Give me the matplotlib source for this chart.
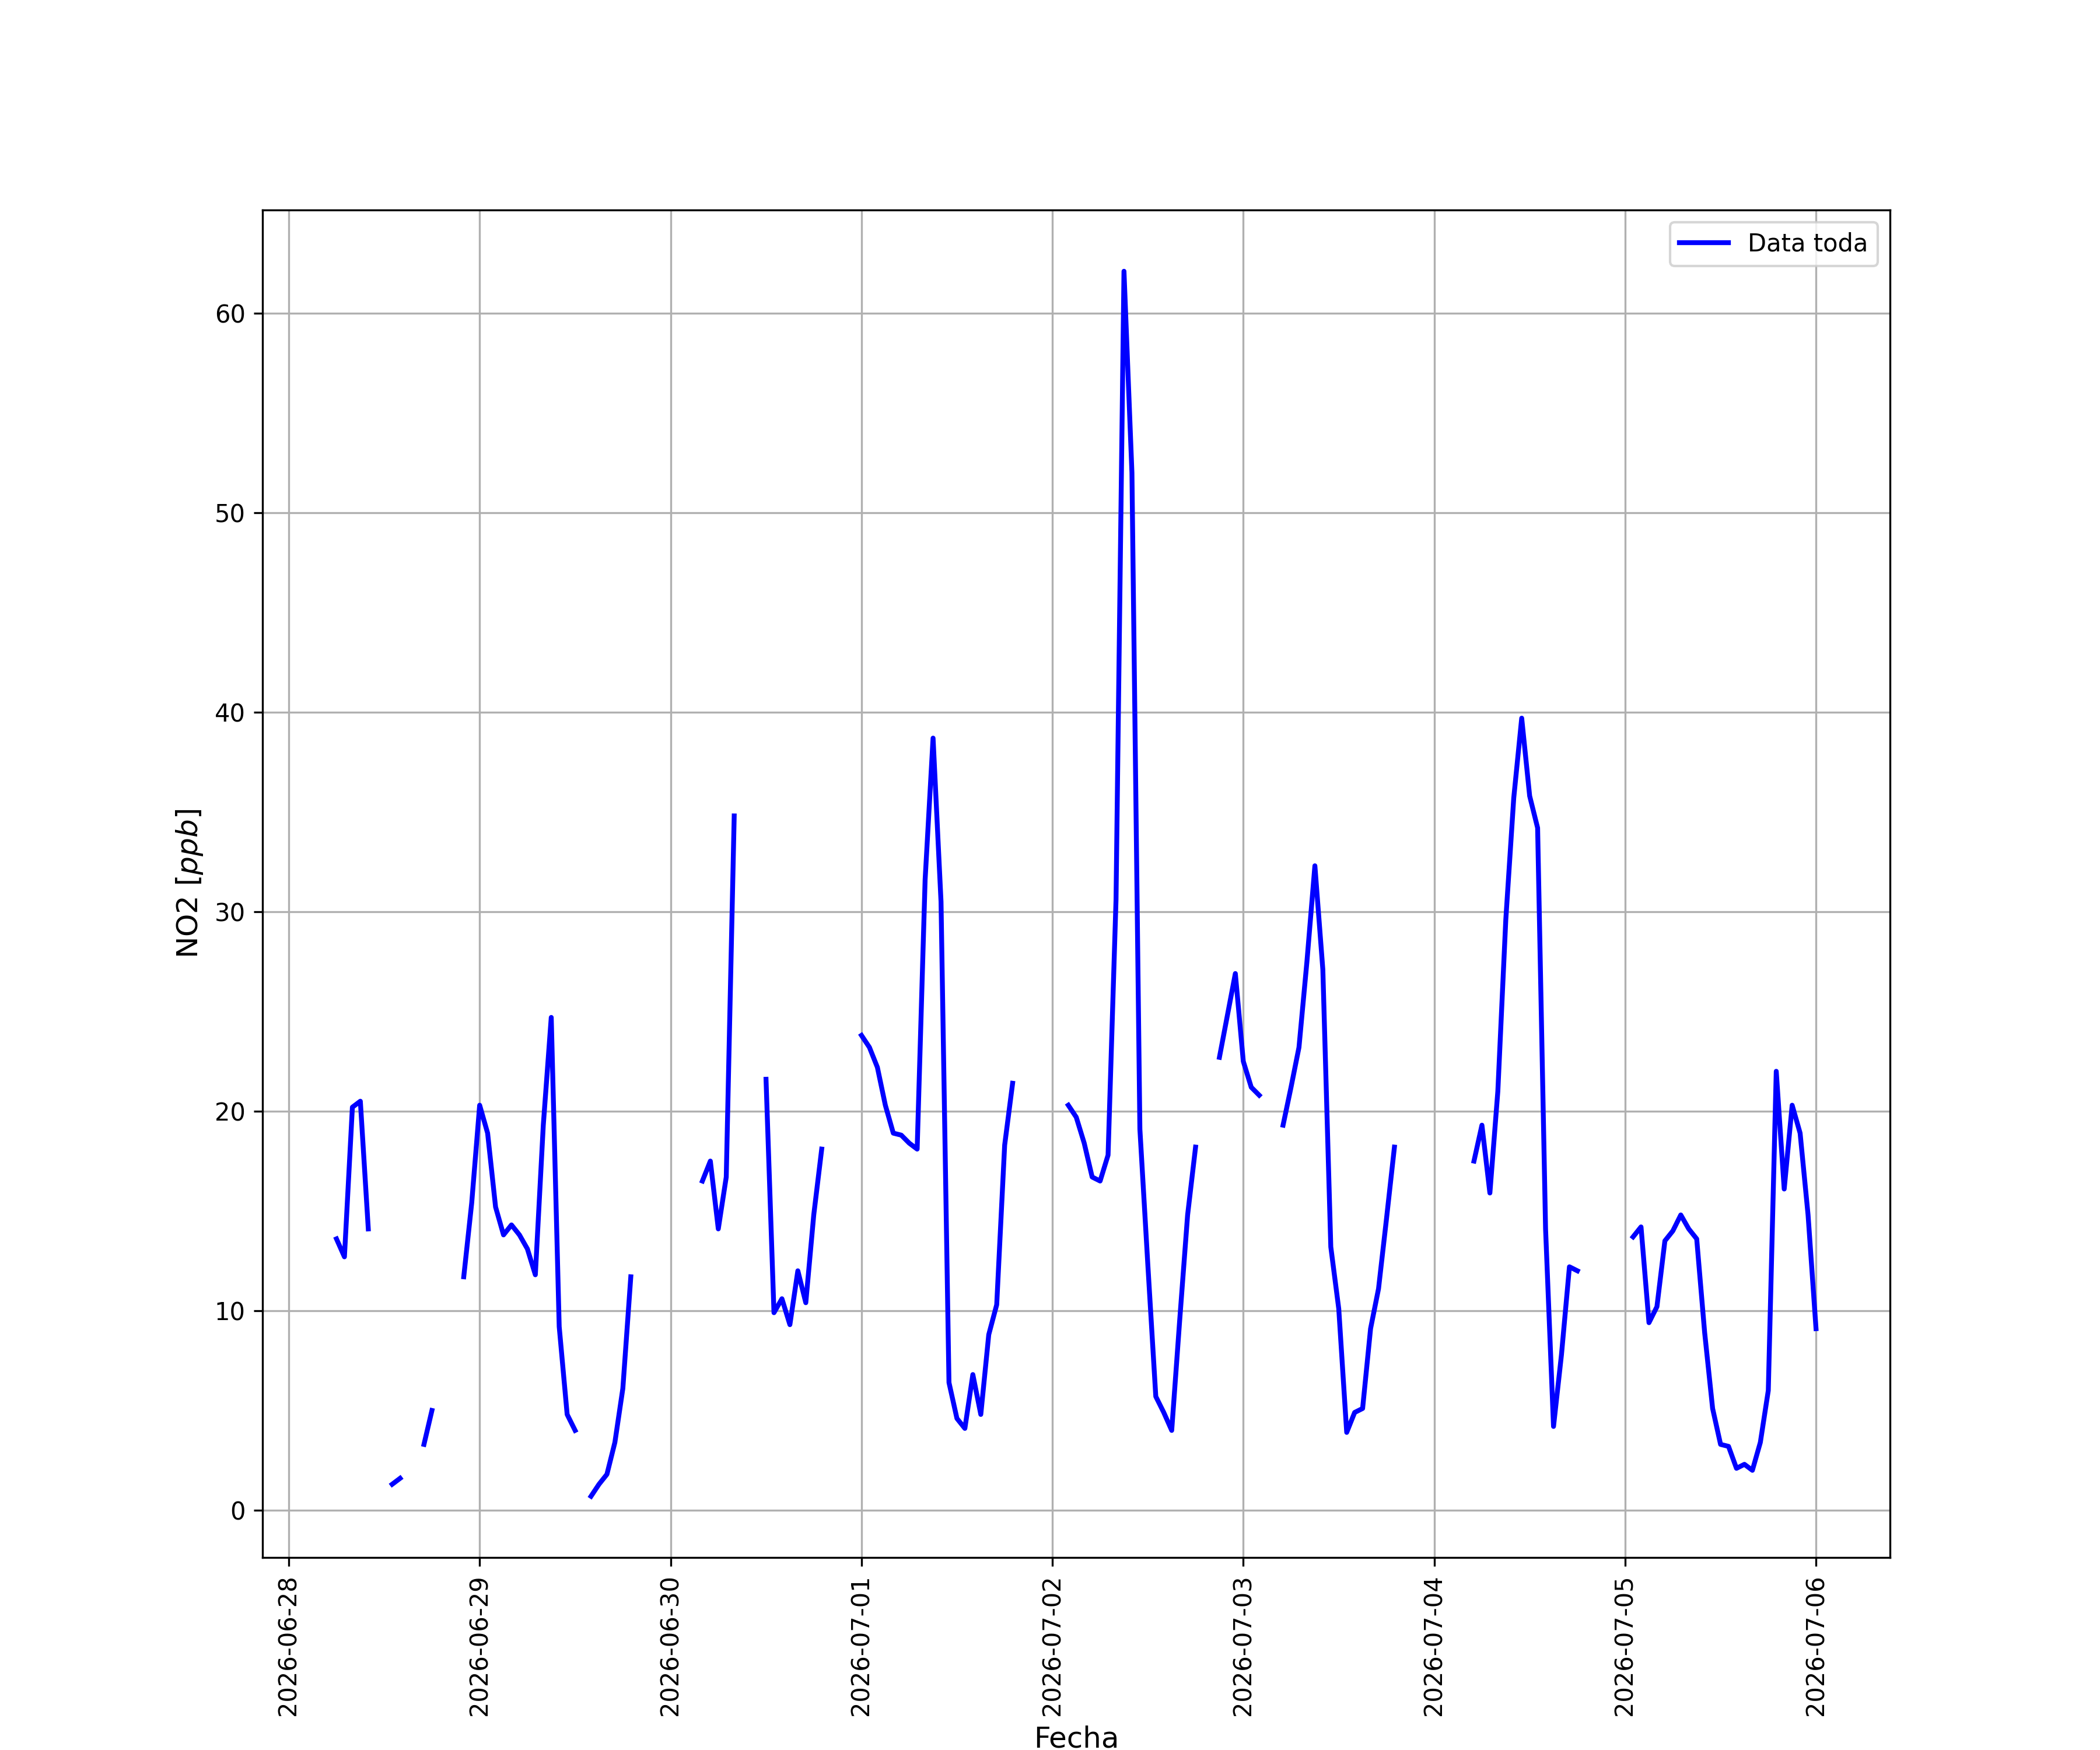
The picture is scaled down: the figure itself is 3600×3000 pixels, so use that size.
import numpy as np
import pandas as pd
import matplotlib
matplotlib.use("Agg")
import matplotlib.pyplot as plt

nan = np.nan

# NO2 horario (ppb), un bloque de 24 valores por dia desde las 00:00
dia_0628 = [nan, nan, nan, nan, nan, nan, 13.6, 12.7, 20.2, 20.5, 14.1, nan,
            nan, 1.3, 1.6, nan, nan, 3.3, 5.0, nan, nan, nan, 11.7, 15.4]
dia_0629 = [20.3, 18.9, 15.2, 13.8, 14.3, 13.8, 13.1, 11.8, 19.3, 24.7, 9.2, 4.8,
            4.0, nan, 0.7, 1.3, 1.8, 3.4, 6.1, 11.7, nan, nan, nan, nan]
dia_0630 = [nan, nan, nan, nan, 16.5, 17.5, 14.1, 16.7, 34.8, nan, nan, nan,
            21.6, 9.9, 10.6, 9.3, 12.0, 10.4, 14.8, 18.1, nan, nan, nan, nan]
dia_0701 = [23.8, 23.2, 22.2, 20.3, 18.9, 18.8, 18.4, 18.1, 31.6, 38.7, 30.5, 6.4,
            4.6, 4.1, 6.8, 4.8, 8.8, 10.3, 18.3, 21.4, nan, nan, nan, nan]
dia_0702 = [nan, nan, 20.3, 19.7, 18.4, 16.7, 16.5, 17.8, 30.6, 62.1, 52.0, 19.1,
            12.3, 5.7, 4.9, 4.0, 9.5, 14.8, 18.2, nan, nan, 22.7, 24.8, 26.9]
dia_0703 = [22.5, 21.2, 20.8, nan, nan, 19.3, 21.2, 23.2, 27.5, 32.3, 27.1, 13.2,
            10.1, 3.9, 4.9, 5.1, 9.1, 11.1, 14.6, 18.2, nan, nan, nan, nan]
dia_0704 = [nan, nan, nan, nan, nan, 17.5, 19.3, 15.9, 21.0, 29.6, 35.7, 39.7,
            35.8, 34.2, 14.1, 4.2, 7.8, 12.2, 12.0, nan, nan, nan, nan, nan]
dia_0705 = [nan, 13.7, 14.2, 9.4, 10.2, 13.5, 14.0, 14.8, 14.1, 13.6, 8.9, 5.1,
            3.3, 3.2, 2.1, 2.3, 2.0, 3.4, 6.0, 22.0, 16.1, 20.3, 18.9, 14.8]
dia_0706 = [9.1]

valores = (dia_0628 + dia_0629 + dia_0630 + dia_0701 + dia_0702
           + dia_0703 + dia_0704 + dia_0705 + dia_0706)
fechas = pd.date_range("2026-06-28 00:00", periods=len(valores), freq="h")

serie = pd.Series(valores, index=fechas)
serie = serie[serie.first_valid_index():]

plt.figure(figsize=(12, 10), dpi=300)
plt.plot(serie.index, serie.values, color="b", linewidth=2, label="Data toda")
plt.xlabel("Fecha", fontsize=12)
plt.ylabel(r"NO2 $[ppb]$", fontsize=12)
plt.xticks(rotation=90)
plt.grid(True)
plt.legend(loc="upper right")
plt.savefig("out.png", dpi=300)
